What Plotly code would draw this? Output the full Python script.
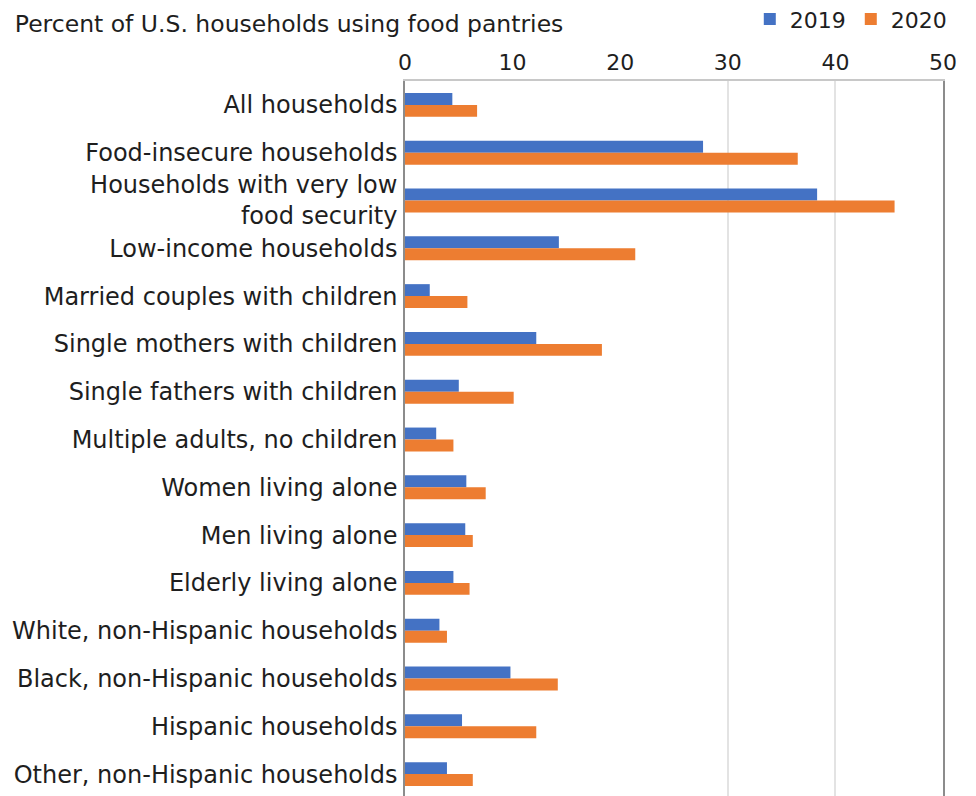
import plotly.graph_objects as go

categories = [
    "All households",
    "Food-insecure households",
    "Households with very low<br>food security",
    "Low-income households",
    "Married couples with children",
    "Single mothers with children",
    "Single fathers with children",
    "Multiple adults, no children",
    "Women living alone",
    "Men living alone",
    "Elderly living alone",
    "White, non-Hispanic households",
    "Black, non-Hispanic households",
    "Hispanic households",
    "Other, non-Hispanic households",
]
values_2019 = [4.4, 27.7, 38.3, 14.3, 2.3, 12.2, 5.0, 2.9, 5.7, 5.6, 4.5, 3.2, 9.8, 5.3, 3.9]
values_2020 = [6.7, 36.5, 45.5, 21.4, 5.8, 18.3, 10.1, 4.5, 7.5, 6.3, 6.0, 3.9, 14.2, 12.2, 6.3]
x_ticks = [0, 10, 20, 30, 40, 50]
grid_ticks = [30, 40]

FONT = "DejaVu Sans, Verdana, sans-serif"
TXT = "#1e1e1e"

fig = go.Figure()
# invisible helper trace to activate the gridline axis
fig.add_trace(go.Scatter(x=[0], y=[categories[0]], xaxis="x2", mode="markers",
                         marker=dict(opacity=0, size=1), showlegend=False, hoverinfo="skip"))
fig.add_trace(go.Bar(y=categories, x=values_2019, orientation="h", name="2019",
                     marker=dict(color="#4472C4", line=dict(width=0))))
fig.add_trace(go.Bar(y=categories, x=values_2020, orientation="h", name="2020",
                     marker=dict(color="#ED7D31", line=dict(width=0))))

n = len(categories)
fig.update_layout(
    width=976, height=796,
    margin=dict(l=397, r=41, t=73, b=6),
    paper_bgcolor="white", plot_bgcolor="white",
    barmode="group", bargap=0.5, bargroupgap=0,
    font=dict(family=FONT, size=23, color=TXT),
    title=dict(text="Percent of U.S. households using food pantries",
               x=0.007, xanchor="left", xref="container",
               y=0.980, yanchor="middle", yref="container",
               font=dict(family=FONT, size=23.5, color=TXT)),
    legend=dict(orientation="h", xref="container", yref="container",
                x=0.967, xanchor="right", y=0.986, yanchor="middle",
                font=dict(family=FONT, size=22, color=TXT),
                itemwidth=30, traceorder="normal"),
    xaxis=dict(side="top", range=[0, 50], tickvals=x_ticks, ticks="",
               showgrid=False, zeroline=False, automargin=False,
               showline=True, linecolor="#c8c8c8", linewidth=1.5, mirror=True,
               tickfont=dict(family=FONT, size=22, color=TXT)),
    xaxis2=dict(overlaying="x", side="top", range=[0, 50], tickvals=grid_ticks,
                showticklabels=False, ticks="", showgrid=True, gridcolor="#e3e3e3",
                gridwidth=1.5, zeroline=False, showline=False, automargin=False),
    yaxis=dict(range=[n - 0.5, -0.5], autorange=False, ticks="", showgrid=False,
               zeroline=False, automargin=False,
               showline=True, linecolor="#8c8c8c", linewidth=1.5, mirror=True,
               ticklabelstandoff=1,
               tickfont=dict(family=FONT, size=24, color=TXT)),
)

fig.write_html("out.html")
